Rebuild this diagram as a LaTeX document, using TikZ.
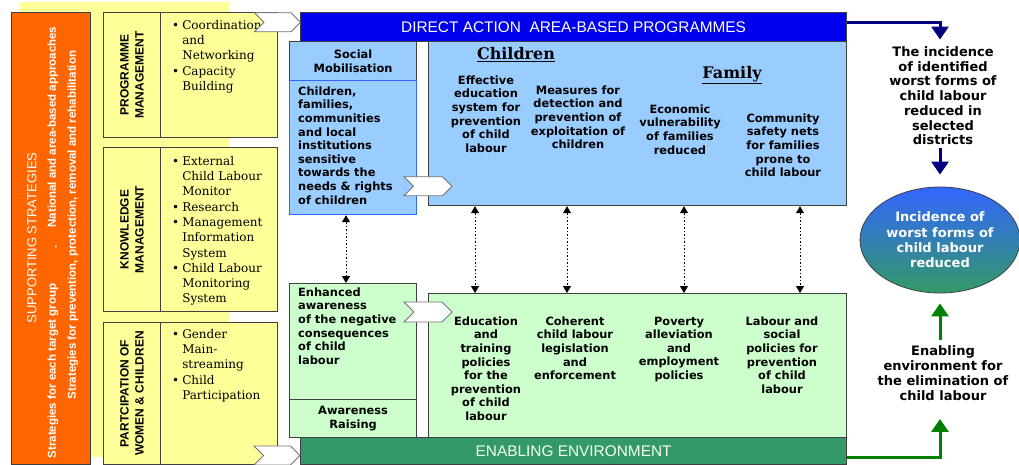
\documentclass[tikz,border=0pt]{standalone}
\usepackage{fontspec}
\setmainfont{DejaVu Sans}
\newfontfamily\serifface{DejaVu Serif}
\newfontfamily\arialface{Liberation Sans}
\usepackage{tikz}
\usetikzlibrary{shapes.geometric}
\usetikzlibrary{shapes.symbols}
\usetikzlibrary{arrows.meta}
\usetikzlibrary{positioning}
\definecolor{strategy}{HTML}{FF6600}
\definecolor{paleyellow}{HTML}{FFFF99}
\definecolor{directblue}{HTML}{0000EE}
\definecolor{skyblue}{HTML}{99CCFF}
\definecolor{mint}{HTML}{CCFFCC}
\definecolor{seagreen}{HTML}{339966}
\definecolor{navy}{HTML}{000080}
\definecolor{leaf}{HTML}{008000}
\definecolor{royal}{HTML}{3366FF}
\definecolor{edge}{HTML}{404040}
\newcommand\cellfont{\bfseries\fontsize{11.4}{13.6}\selectfont}
\newcommand\resultfont{\bfseries\fontsize{13}{14.7}\selectfont}
\newcommand\bulletfont{\serifface\fontsize{12}{15.3}\selectfont}
\newcommand\capfont{\arialface\bfseries\fontsize{12}{15}\selectfont}
\newcommand\bannerfont{\arialface\fontsize{15.4}{18}\selectfont}
\newcommand\stripfont{\arialface\bfseries\fontsize{11.5}{14}\selectfont}
\newcommand\groupfont{\serifface\bfseries\fontsize{16}{19}\selectfont}
\tikzstyle{frame}=[rectangle,draw=edge,line width=1.2,anchor=north west,inner sep=0]
\tikzstyle{yellowbox}=[frame,fill=paleyellow]
\tikzstyle{bluebox}=[frame,fill=skyblue]
\tikzstyle{greenbox}=[frame,fill=mint]
\tikzstyle{chevron}=[signal,signal to=east,signal from=west,draw=black!55,fill=white,line width=0.8,minimum width=46,minimum height=19,inner sep=0]
\tikzstyle{sidelabel}=[rotate=90,align=center,inner sep=0,font=\capfont]
\tikzstyle{striptext}=[rotate=90,inner sep=0,text=white,font=\stripfont]
\tikzstyle{listtext}=[anchor=north west,inner sep=0,font=\bulletfont]
\tikzstyle{celltext}=[anchor=north,align=center,inner sep=0,font=\cellfont]
\tikzstyle{resulttext}=[anchor=north,align=center,inner sep=0,font=\resultfont]
\tikzstyle{outcome}=[ellipse,draw=edge,line width=0.8,top color=royal,middle color=royal!65!seagreen,bottom color=seagreen,minimum width=160,minimum height=106,inner sep=0,align=center,text=white,font=\bfseries\fontsize{13}{15.3}\selectfont]
\tikzstyle{navyarrow}=[-{Triangle[width=17pt,length=13pt]},draw=navy,line width=3]
\tikzstyle{leafarrow}=[-{Triangle[width=17pt,length=13pt]},draw=leaf,line width=3]
\tikzstyle{dotlink}=[{Triangle[width=8pt,length=7pt]}-{Triangle[width=8pt,length=7pt]},line width=0.8,dash pattern=on 1.5pt off 2pt]

\begin{document}
\begin{tikzpicture}[x=1pt,y=-1pt]
  \useasboundingbox (0,0) rectangle (1019,464);
  % supporting strategies
  \node[fill=paleyellow,anchor=north west,inner sep=0,minimum width=210,minimum height=455] at (20,2) (backdrop) {};
  \node[frame,fill=strategy,line width=0.8,minimum width=79,minimum height=452] at (11,12) (strategies) {};
  \node[striptext,font=\arialface\fontsize{13}{15}\selectfont] at (32,238) (supporting) {SUPPORTING STRATEGIES};
  \node[striptext] at (53,127) (national) {National and area-based approaches};
  \node[striptext] at (56,247) (dot) {.};
  \node[striptext] at (53,371) (eachgroup) {Strategies for each target group};
  \node[striptext] at (73,225) (prevention) {Strategies for prevention, protection, removal and rehabilitation};

  \node[yellowbox,minimum width=57,minimum height=125] at (103,12) (pmlabel) {};
  \node[yellowbox,minimum width=117,minimum height=125] at (160,12) (pmlist) {};
  \node[yellowbox,minimum width=57,minimum height=164] at (103,147) (kmlabel) {};
  \node[yellowbox,minimum width=117,minimum height=164] at (160,147) (kmlist) {};
  \node[yellowbox,minimum width=57,minimum height=142] at (103,322) (pwlabel) {};
  \node[yellowbox,minimum width=117,minimum height=142] at (160,322) (pwlist) {};
  \node[sidelabel] at (pmlabel.center) (pmtext) {PROGRAMME\\MANAGEMENT};
  \node[sidelabel] at (kmlabel.center) (kmtext) {KNOWLEDGE\\MANAGEMENT};
  \node[sidelabel] at (pwlabel.center) (pwtext) {PARTCIPATION OF\\WOMEN \& CHILDREN};
  \node[listtext] at (172,18.3) (pmitems) {\begin{tabular}{@{}l@{\hspace{3pt}}l@{}}
    \textbullet & Coordination\\ & and\\ & Networking\\
    \textbullet & Capacity\\ & Building\end{tabular}};
  \node[listtext] at (172,154.3) (kmitems) {\begin{tabular}{@{}l@{\hspace{3pt}}l@{}}
    \textbullet & External\\ & Child Labour\\ & Monitor\\
    \textbullet & Research\\
    \textbullet & Management\\ & Information\\ & System\\
    \textbullet & Child Labour\\ & Monitoring\\ & System\end{tabular}};
  \node[listtext] at (172,327.3) (pwitems) {\begin{tabular}{@{}l@{\hspace{3pt}}l@{}}
    \textbullet & Gender\\ & Main-\\ & streaming\\
    \textbullet & Child\\ & Participation\end{tabular}};

  % direct action
  \node[frame,fill=directblue,minimum width=546,minimum height=29,text=white,font=\bannerfont] at (300,12) (direct) {DIRECT ACTION\ \ AREA-BASED PROGRAMMES};
  \node[bluebox,minimum width=127,minimum height=39,align=center,font=\cellfont] at (289,41) (socialhead) {Social\\Mobilisation};
  \node[bluebox,draw=royal,minimum width=127,minimum height=134] at (289,80) (socialbody) {};
  \node[bluebox,minimum width=418,minimum height=164] at (428,41) (targets) {};
  \node[celltext,anchor=north west,align=left] at (298,86.5) (sensitive) {Children,\\families,\\communities\\and local\\institutions\\sensitive\\towards the\\needs \& rights\\of children};
  \node[inner sep=0,anchor=base,font=\groupfont] at (516,59.5) (children) {\underline{Children}};
  \node[inner sep=0,anchor=base,font=\groupfont] at (732,78) (family) {\underline{Family}};
  \node[celltext] at (486,75.5) (effective) {Effective\\education\\system for\\prevention\\of child\\labour};
  \node[celltext] at (578,85.5) (detection) {Measures for\\detection and\\prevention of\\exploitation of\\children};
  \node[celltext] at (680,104.5) (vulnerability) {Economic\\vulnerability\\of families\\reduced};
  \node[celltext] at (783,113.5) (safetynets) {Community\\safety nets\\for families\\prone to\\child labour};

  % enabling environment
  \node[greenbox,minimum width=127,minimum height=116] at (289,283) (awarebody) {};
  \node[greenbox,minimum width=127,minimum height=38,align=center,font=\cellfont] at (289,399) (awarehead) {Awareness\\Raising};
  \node[greenbox,minimum width=418,minimum height=144] at (428,293) (policies) {};
  \node[frame,fill=seagreen,minimum width=546,minimum height=27,text=green!5,font=\bannerfont] at (300,437) (enabling) {ENABLING ENVIRONMENT};
  \node[celltext,anchor=north west,align=left] at (298,287.5) (enhanced) {Enhanced\\awareness\\of the negative\\consequences\\of child\\labour};
  \node[celltext] at (486,316.5) (education) {Education\\and\\training\\policies\\for the\\prevention\\of child\\labour};
  \node[celltext] at (575,316.5) (legislation) {Coherent\\child labour\\legislation\\and\\enforcement};
  \node[celltext] at (679,316.5) (poverty) {Poverty\\alleviation\\and\\employment\\policies};
  \node[celltext] at (782,316.5) (socialpolicy) {Labour and\\social\\policies for\\prevention\\of child\\labour};

  \node[chevron] at (277.5,22.2) (chevpm) {};
  \node[chevron,minimum width=48] at (428,186.3) (chevsocial) {};
  \node[chevron,minimum width=48,minimum height=20] at (428,312) (chevaware) {};
  \node[chevron] at (277,455.5) (chevpw) {};

  \draw[dotlink] (346,0 |- socialbody.south) -- (346,0 |- awarebody.north);
  \draw[dotlink] (475,0 |- targets.south) -- (475,0 |- policies.north);
  \draw[dotlink] (567,0 |- targets.south) -- (567,0 |- policies.north);
  \draw[dotlink] (684,0 |- targets.south) -- (684,0 |- policies.north);
  \draw[dotlink] (800,0 |- targets.south) -- (800,0 |- policies.north);

  % results
  \node[resulttext] at (943,46.5) (incidence) {The incidence\\of identified\\worst forms of\\child labour\\reduced in\\selected\\districts};
  \node[outcome] at (940,240) (outcome) {Incidence of\\worst forms of\\child labour\\reduced};
  \node[resulttext,font=\bfseries\fontsize{13}{15}\selectfont] at (943,345.5) (elimination) {Enabling\\environment for\\the elimination of\\child labour};
  \draw[navyarrow,shorten >=7pt] ([yshift=4.5pt]direct.east) -| (outcome.north |- incidence.north);
  \draw[navyarrow,shorten <=3pt,shorten >=12pt] (outcome.north |- incidence.south) -- (outcome.north);
  \draw[leafarrow,shorten <=5.5pt,shorten >=10pt] (outcome.south |- elimination.north) -- (outcome.south);
  \draw[leafarrow,shorten >=18pt] ([yshift=-6.5pt]enabling.east) -| (outcome.south |- elimination.south);
\end{tikzpicture}
\end{document}
